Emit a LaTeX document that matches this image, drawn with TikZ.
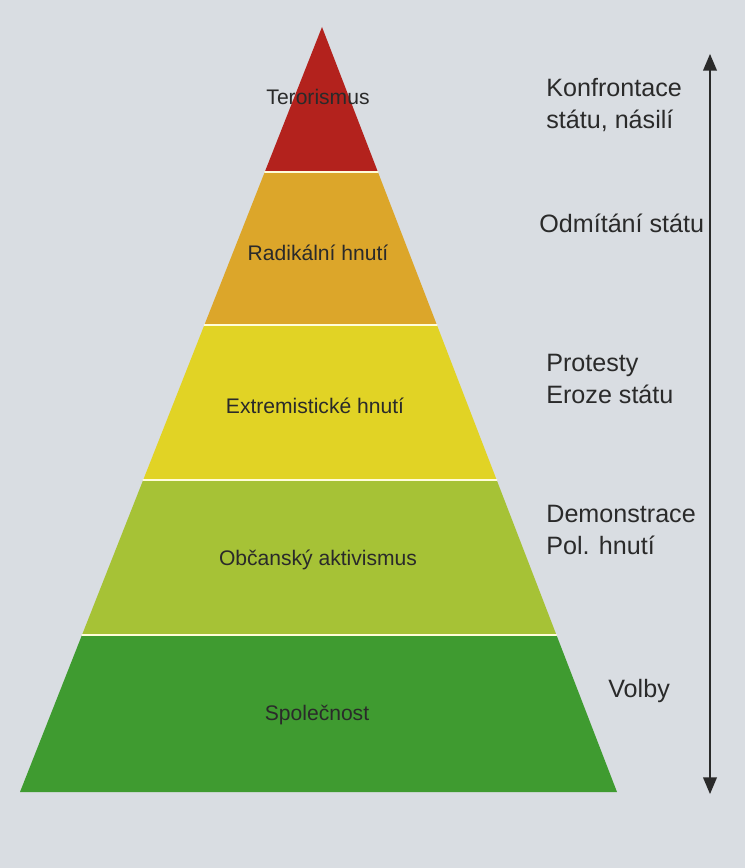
\documentclass[tikz,border=0pt]{standalone}
\usepackage{fontspec}
\setmainfont{Liberation Sans}
\usetikzlibrary{arrows,calc}
\definecolor{paper}{HTML}{D9DDE2}
\definecolor{lred}{HTML}{B3221D}
\definecolor{lorange}{HTML}{DCA62A}
\definecolor{lyellow}{HTML}{E1D325}
\definecolor{llime}{HTML}{A6C236}
\definecolor{lgreen}{HTML}{3F9B30}
\definecolor{ink}{HTML}{2A2A2A}
\tikzset{
  layertext/.style={font=\fontsize{12}{14}\selectfont, text=ink, inner sep=0pt},
  sidetext/.style={font=\fontsize{14.3}{18}\selectfont, text=ink, align=left, anchor=north west, inner sep=0pt},
  split/.style={draw=white!85!yellow, line width=0.8pt}
}
\begin{document}
\begin{tikzpicture}[line cap=round,line join=round,>=triangle 45,x=0.02cm,y=-0.02cm]
\fill[paper] (0,0) rectangle (745,868);
\useasboundingbox (0,0) rectangle (745,868);
% outline of the pyramid
\coordinate (apex) at (322,27);
\coordinate (bl) at (20,792);
\coordinate (br) at (617,792);
\coordinate (l1) at ($(apex)!0.1895!(bl)$);
\coordinate (r1) at ($(apex)!0.1895!(br)$);
\coordinate (l2) at ($(apex)!0.3895!(bl)$);
\coordinate (r2) at ($(apex)!0.3895!(br)$);
\coordinate (l3) at ($(apex)!0.5922!(bl)$);
\coordinate (r3) at ($(apex)!0.5922!(br)$);
\coordinate (l4) at ($(apex)!0.7948!(bl)$);
\coordinate (r4) at ($(apex)!0.7948!(br)$);
% layers
\fill[lred] (apex) -- (r1) -- (l1) -- cycle;
\fill[lorange] (l1) -- (r1) -- (r2) -- (l2) -- cycle;
\fill[lyellow] (l2) -- (r2) -- (r3) -- (l3) -- cycle;
\fill[llime] (l3) -- (r3) -- (r4) -- (l4) -- cycle;
\fill[lgreen] (l4) -- (r4) -- (br) -- (bl) -- cycle;
\draw[split] (l1) -- (r1);
\draw[split] (l2) -- (r2);
\draw[split] (l3) -- (r3);
\draw[split] (l4) -- (r4);
% texts in the layers
\node[layertext] (teror) at (318,97) {Terorismus};
\node[layertext] (radik) at (318,253) {Radikální hnutí};
\node[layertext] (extrem) at (315,406) {Extremistické hnutí};
\node[layertext] (aktiv) at (318,560) {Občanský aktivismus};
\node[layertext] (spol) at (317,715) {Společnost};
% texts on the right
\node[sidetext] (konfr) at (546,78) {Konfrontace\\státu, násilí};
\node[sidetext] (odmit) at (539,214) {Odmítání státu};
\node[sidetext] (protest) at (546,354) {Protesty\\Eroze státu};
\node[sidetext] (demon) at (546,505) {Demonstrace\\Pol. hnutí};
\node[sidetext] (volby) at (608,679) {Volby};
% arrow
\coordinate (atop) at (710,54);
\coordinate (abot) at (710,794);
\draw[<->, line width=1.2pt, ink] (atop) -- (abot);
\end{tikzpicture}
\end{document}
